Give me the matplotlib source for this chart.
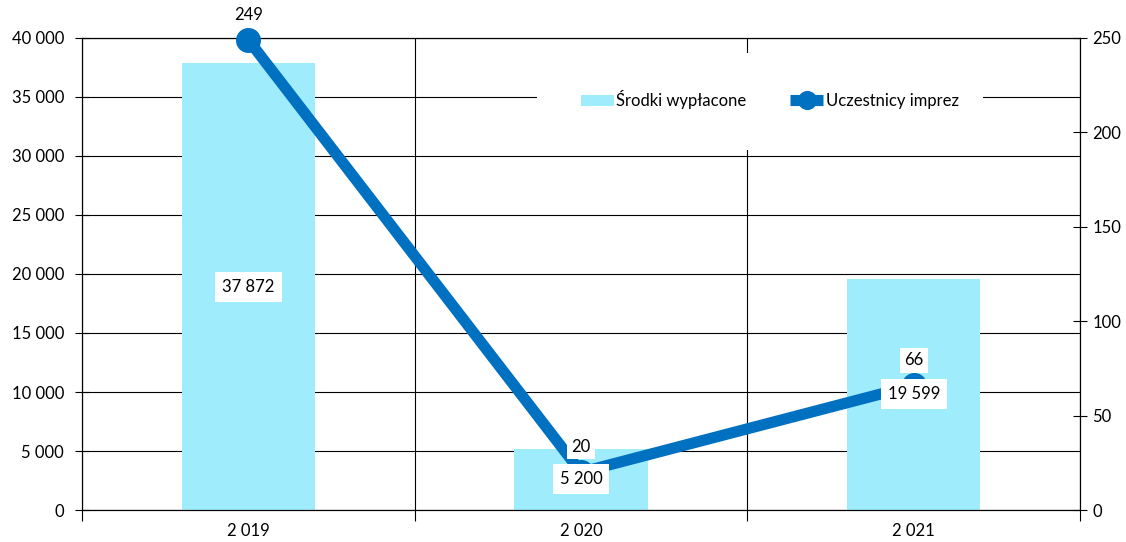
import numpy as np
import matplotlib.pyplot as plt
from matplotlib.patches import Rectangle
from matplotlib.ticker import FuncFormatter

plt.rcParams['font.family'] = ['Lato', 'DejaVu Sans']

years = ['2 019', '2 020', '2 021']
srodki = [37872, 5200, 19599]
uczestnicy = [249, 20, 66]
bar_labels = ['37 872', '5 200', '19 599']

bar_color = '#9fecfc'
line_color = '#0070c0'
fs = 12


def space_fmt(v, pos):
    return f'{int(v):,}'.replace(',', ' ')


fig = plt.figure(figsize=(11.26, 5.42), dpi=100)
ax = fig.add_axes([0.0728, 0.059, 0.8864, 0.871])
ax2 = ax.twinx()

x = np.arange(len(years))
ax.bar(x, srodki, width=0.4, color=bar_color, zorder=2, label='Środki wypłacone')
ax.set_xlim(-0.5, 2.5)
ax.set_ylim(0, 40000)
ax.set_yticks(np.arange(0, 40001, 5000))
ax.yaxis.set_major_formatter(FuncFormatter(space_fmt))
ax.grid(axis='y', color='black', lw=0.8, zorder=0)

# vertical grid at category boundaries, labels at centers
ax.set_xticks(np.arange(-0.5, 2.6, 1.0))
ax.set_xticklabels([])
ax.set_xticks(x, minor=True)
ax.set_xticklabels(years, minor=True)
ax.tick_params(axis='x', which='minor', length=0, pad=9, labelsize=fs)
ax.tick_params(axis='x', which='major', length=8, width=0.8, direction='out')
ax.grid(axis='x', which='major', color='black', lw=0.8, zorder=0)
ax.tick_params(axis='y', direction='inout', length=10, width=0.8, pad=8, labelsize=fs)

ax2.plot(x, uczestnicy, color=line_color, lw=8, marker='o', ms=17,
         solid_capstyle='butt', zorder=4, label='Uczestnicy imprez', clip_on=False)
ax2.set_ylim(0, 250)
ax2.set_yticks(np.arange(0, 251, 50))
ax2.tick_params(axis='y', direction='inout', length=10, width=0.8, pad=4, labelsize=fs)

for xi, v in zip(x, uczestnicy):
    ax2.text(xi, v + 9, str(v), ha='center', va='bottom', fontsize=fs, zorder=6,
             bbox=dict(facecolor='white', edgecolor='none', pad=3))

for xi, v, t in zip(x, srodki, bar_labels):
    ax2.text(xi, v / 2 / 40000 * 250, t, ha='center', va='center', fontsize=fs, zorder=7,
             bbox=dict(facecolor='white', edgecolor='none', pad=5))

ax2.set_zorder(ax.get_zorder() + 1)
ax2.patch.set_visible(False)

for a in (ax, ax2):
    for s in a.spines.values():
        s.set_color('black')
        s.set_linewidth(0.8)

# white legend area covering the grid
ax2.add_patch(Rectangle((0.456, 0.763), 0.447, 0.205, transform=ax2.transAxes,
                        facecolor='white', edgecolor='none', zorder=1))
h1, l1 = ax.get_legend_handles_labels()
h2, l2 = ax2.get_legend_handles_labels()
leg = ax2.legend(h1 + h2, l1 + l2, loc='center', bbox_to_anchor=(0.689, 0.869),
                 ncol=2, frameon=False, fontsize=fs, handlelength=2.0, columnspacing=2.6,
                 handletextpad=0.15, borderaxespad=0, markerscale=0.75)

fig.savefig('out.png', dpi=100)
